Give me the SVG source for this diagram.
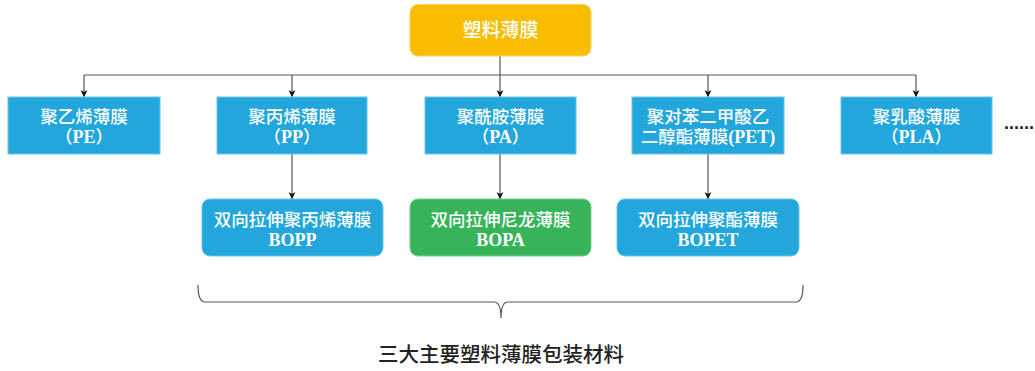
<svg xmlns="http://www.w3.org/2000/svg" width="1035" height="371" viewBox="0 0 1035 371">
<defs>
<marker id="arr" viewBox="0 0 10 10" refX="10" refY="5" markerWidth="7" markerHeight="7" orient="auto" markerUnits="userSpaceOnUse">
<path d="M0,0 L10,5 L0,10 L3,5 Z" fill="#111"/>
</marker>
<style>
.blue{fill:#22a6dc;stroke:#6cc5ea;stroke-width:1}
.yellow{fill:#f9bc00;stroke:#fbd35a;stroke-width:1}
.green{fill:#37b35a;stroke:#7ccc93;stroke-width:1}
.t{font-family:"Noto Sans CJK SC","Liberation Serif",sans-serif;fill:#fff;font-size:17.5px;text-anchor:middle;font-weight:500}
.lat{font-family:"Liberation Serif","Noto Sans CJK SC",serif;font-weight:bold;font-size:18px}
.ln{fill:none;stroke:#555;stroke-width:1.2}
</style>
</defs>
<g id="connectors">
<path class="ln" d="M500,56 V97" marker-end="url(#arr)"/>
<path class="ln" d="M84,75 H916"/>
<path class="ln" d="M84,75 V97" marker-end="url(#arr)"/>
<path class="ln" d="M292,75 V97" marker-end="url(#arr)"/>
<path class="ln" d="M708,75 V97" marker-end="url(#arr)"/>
<path class="ln" d="M916,75 V97" marker-end="url(#arr)"/>
<path class="ln" d="M292,154 V199" marker-end="url(#arr)"/>
<path class="ln" d="M500,154 V199" marker-end="url(#arr)"/>
<path class="ln" d="M708,154 V199" marker-end="url(#arr)"/>
</g>
<g id="root">
<rect class="yellow" x="410" y="4.500" width="181" height="51.500" rx="8"/>
<text class="t" x="500.500" y="37" style="font-size:19px">塑料薄膜</text>
</g>
<g id="pe">
<rect class="blue" x="8" y="97" width="152" height="57"/>
<text class="t"><tspan x="84" y="123">聚乙烯薄膜</tspan><tspan x="84" y="142.500">（<tspan class="lat">PE</tspan>）</tspan></text>
</g>
<g id="pp">
<rect class="blue" x="217" y="97" width="150" height="57"/>
<text class="t"><tspan x="292" y="123">聚丙烯薄膜</tspan><tspan x="292" y="142.500">（<tspan class="lat">PP</tspan>）</tspan></text>
</g>
<g id="pa">
<rect class="blue" x="425" y="97" width="151" height="57"/>
<text class="t"><tspan x="500.500" y="123">聚酰胺薄膜</tspan><tspan x="500.500" y="142.500">（<tspan class="lat">PA</tspan>）</tspan></text>
</g>
<g id="pet">
<rect class="blue" x="632" y="97" width="152" height="57"/>
<text class="t"><tspan x="708" y="123">聚对苯二甲酸乙</tspan><tspan x="708" y="142.500">二醇酯薄膜<tspan class="lat">(PET)</tspan></tspan></text>
</g>
<g id="pla">
<rect class="blue" x="841" y="97" width="151" height="57"/>
<text class="t"><tspan x="916.500" y="123">聚乳酸薄膜</tspan><tspan x="916.500" y="142.500">（<tspan class="lat">PLA</tspan>）</tspan></text>
</g>
<g id="more">
<text x="1004" y="129" style="font-family:'Liberation Sans',sans-serif;font-size:18px;font-weight:bold;fill:#222">......</text>
</g>
<g id="bopp">
<rect class="blue" x="202" y="199" width="181" height="57" rx="8"/>
<text class="t"><tspan x="292.500" y="226">双向拉伸聚丙烯薄膜</tspan><tspan class="lat" x="292.500" y="245.500">BOPP</tspan></text>
</g>
<g id="bopa">
<rect class="green" x="410" y="199" width="181" height="57" rx="8"/>
<text class="t"><tspan x="500.500" y="226">双向拉伸尼龙薄膜</tspan><tspan class="lat" x="500.500" y="245.500">BOPA</tspan></text>
</g>
<g id="bopet">
<rect class="blue" x="617" y="199" width="182" height="57" rx="8"/>
<text class="t"><tspan x="708" y="226">双向拉伸聚酯薄膜</tspan><tspan class="lat" x="708" y="245.500">BOPET</tspan></text>
</g>
<g id="brace">
<path class="ln" d="M198,285 Q198,302 205,302 L494,302 Q501,302 501,318 Q501,302 508,302 L796,302 Q803,302 803,285"/>
</g>
<g id="caption">
<text x="501" y="362" style="font-family:'Noto Sans CJK SC',sans-serif;font-size:20.5px;font-weight:500;fill:#222;text-anchor:middle">三大主要塑料薄膜包装材料</text>
</g>
</svg>
